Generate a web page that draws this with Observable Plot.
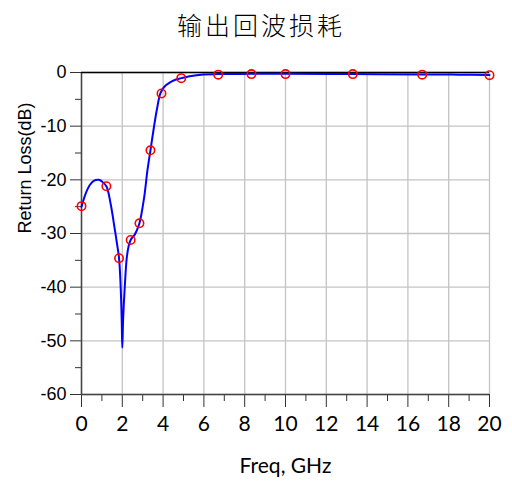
<!DOCTYPE html>
<html>
<head>
<meta charset="utf-8">
<script src="https://cdn.jsdelivr.net/npm/d3@7"></script>
<script src="https://cdn.jsdelivr.net/npm/@observablehq/plot@0.6"></script>
<style>
  body { margin: 0; background: #fff; }
  #title { height: 50px; width: 512px; box-sizing: border-box; padding-left: 10px; padding-top: 6px;
    text-align: center; font-family: "Noto Sans CJK SC", sans-serif; font-weight: 300; font-size: 25px; letter-spacing: 3px; color: #000; }
</style>
</head>
<body>
<div id="title">输出回波损耗</div>
<div id="chart"></div>
<script>
// Curve (Freq in GHz, Return Loss in dB)
const freq = [0, 0.2, 0.4, 0.6, 0.85, 1.0, 1.22, 1.43, 1.59, 1.72, 1.84, 1.92, 1.97, 2.0, 2.04, 2.12, 2.22, 2.32, 2.41, 2.5, 2.58, 2.7, 2.84, 3.07, 3.23, 3.38, 3.55, 3.7, 3.87, 4.05, 4.36, 4.6, 4.89, 5.3, 5.98, 6.7, 8.33, 10.0, 13.3, 16.7, 18.5, 20];
const rl   = [-25, -22.6, -21.0, -20.2, -20.0, -20.3, -21.2, -24.5, -28.2, -31.4, -34.6, -40.0, -46.0, -51.3, -46.0, -40.0, -34.5, -32.2, -31.2, -30.7, -30.4, -29.5, -28.1, -23.3, -18.3, -14.5, -10.2, -6.8, -3.85, -2.7, -1.8, -1.35, -1.05, -0.7, -0.37, -0.3, -0.25, -0.25, -0.3, -0.35, -0.4, -0.45];
// Marker points
const markFreq = [0, 1.22, 1.84, 2.41, 2.84, 3.38, 3.92, 4.89, 6.7, 8.33, 10.0, 13.3, 16.7, 20];
const markRL   = [-24.9, -21.2, -34.6, -31.2, -28.1, -14.5, -3.9, -1.05, -0.4, -0.3, -0.3, -0.3, -0.4, -0.5];
// Ticks
const xMajor = [0, 2, 4, 6, 8, 10, 12, 14, 16, 18, 20];
const xMinor = [1, 3, 5, 7, 9, 11, 13, 15, 17, 19];
const yMajor = [0, -10, -20, -30, -40, -50, -60];
const yMinor = [-5, -15, -25, -35, -45, -55];

const curve = freq.map((f, i) => ({f, v: rl[i]}));
const marks = markFreq.map((f, i) => ({f, v: markRL[i]}));

const chart = Plot.plot({
  width: 512,
  height: 433,
  marginLeft: 81,
  marginRight: 23,
  marginTop: 22,
  marginBottom: 89,
  x: {domain: [0, 20]},
  y: {domain: [-60, 0]},
  style: {fontFamily: "Liberation Sans, Arial, sans-serif", color: "#000", background: "#fff"},
  marks: [
    Plot.gridX(xMajor, {stroke: "#c4c4c4", strokeOpacity: 1, strokeWidth: 1.3}),
    Plot.gridY(yMajor, {stroke: "#c4c4c4", strokeOpacity: 1, strokeWidth: 1.3}),
    Plot.axisX(xMinor, {tickSize: 7, tickFormat: () => "", label: null, stroke: "#333"}),
    Plot.axisX(xMajor, {tickSize: 13, tickPadding: 9, label: null, stroke: "#333",
      fontFamily: "Lato, sans-serif", fontSize: 21}),
    Plot.axisY(yMinor, {tickSize: 6, tickFormat: () => "", label: null, stroke: "#333"}),
    Plot.axisY(yMajor, {tickSize: 11, tickPadding: 4, label: null, stroke: "#333",
      fontSize: 18, tickFormat: d => d === 0 ? "0" : String(d)}),
    Plot.ruleX([0], {stroke: "#444", strokeWidth: 1.5}),
    Plot.ruleY([-60], {stroke: "#444", strokeWidth: 1.5}),
    Plot.ruleY([0], {stroke: "#000", strokeWidth: 1.3}),
    Plot.line(curve, {x: "f", y: "v", stroke: "#0000ff", strokeWidth: 2, curve: "catmull-rom"}),
    Plot.dot(marks, {x: "f", y: "v", r: 4.2, stroke: "#ff0000", strokeWidth: 1.6, fill: "none"}),
    Plot.text(["Freq, GHz"], {frameAnchor: "bottom", dy: 78, fontFamily: "Lato, sans-serif", fontSize: 21}),
    Plot.text(["Return Loss(dB)"], {frameAnchor: "left", dx: -56, rotate: -90, fontSize: 18})
  ]
});
document.getElementById("chart").appendChild(chart);
</script>
</body>
</html>
